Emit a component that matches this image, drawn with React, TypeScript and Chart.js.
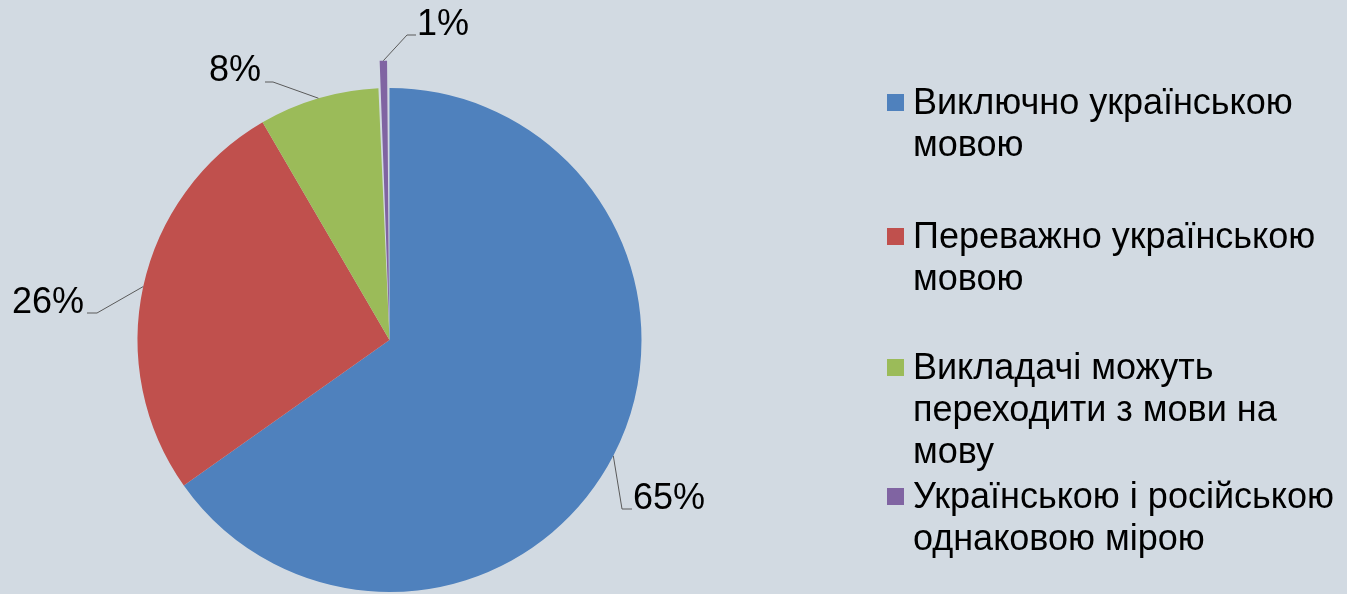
import React, { useEffect, useRef } from "react";
import { Chart, registerables } from "chart.js";

Chart.register(...registerables);

// ---- data ----
const categories: string[][] = [
  ["Виключно українською", "мовою"],
  ["Переважно українською", "мовою"],
  ["Викладачі можуть", "переходити з мови на", "мову"],
  ["Українською і російською", "однаковою мірою"],
];
const values = [65.2, 26.4, 7.7, 0.7];
const percentLabels = ["65%", "26%", "8%", "1%"];
const colors = ["#4f81bd", "#c0504d", "#9bbb59", "#8064a2"];
const sliceOffsets = [0, 0, 0, 56];

const BG = "#d2dae2";
const FONT = "'Liberation Sans', Arial, sans-serif";

// label layout: elbow point, end of leader, text anchor, alignment
const labelLayout = [
  { elbow: [622, 509], end: [632, 509], text: [633, 509], align: "left" },
  { elbow: [97, 313], end: [87, 313], text: [84, 313], align: "right" },
  { elbow: [273, 82], end: [265, 82], text: [261, 81], align: "right" },
  { elbow: [407, 35], end: [416, 35], text: [417, 35], align: "left" },
];

const legendBaselines = [114, 248, 379, 508];

const labelPlugin = {
  id: "pieLabels",
  afterDatasetsDraw(chart: any) {
    const ctx = chart.ctx;
    const meta = chart.getDatasetMeta(0);
    ctx.save();
    meta.data.forEach((arc: any, i: number) => {
      const { x, y, startAngle, endAngle, outerRadius } = arc;
      const mid = (startAngle + endAngle) / 2;
      const off = (sliceOffsets[i] || 0) / 4;
      const circ = endAngle - startAngle;
      const fix = 1 - Math.sin(Math.min(Math.PI, circ));
      const r = outerRadius + off * fix + off;
      const sx = x + Math.cos(mid) * r;
      const sy = y + Math.sin(mid) * r;
      const L = labelLayout[i];
      ctx.strokeStyle = "#5a5a5a";
      ctx.lineWidth = 1;
      ctx.beginPath();
      ctx.moveTo(sx, sy);
      ctx.lineTo(L.elbow[0], L.elbow[1]);
      ctx.lineTo(L.end[0], L.end[1]);
      ctx.stroke();
      ctx.fillStyle = "#000";
      ctx.font = `36px ${FONT}`;
      ctx.textAlign = L.align;
      ctx.textBaseline = "alphabetic";
      ctx.fillText(percentLabels[i], L.text[0], L.text[1]);
    });
    ctx.restore();
  },
};

const legendPlugin = {
  id: "customLegend",
  afterDraw(chart: any) {
    const ctx = chart.ctx;
    ctx.save();
    ctx.font = `36px ${FONT}`;
    ctx.textAlign = "left";
    ctx.textBaseline = "alphabetic";
    categories.forEach((lines, i) => {
      const b = legendBaselines[i];
      ctx.fillStyle = colors[i];
      ctx.fillRect(887, b - 20, 17, 17);
      ctx.fillStyle = "#000";
      lines.forEach((ln, k) => {
        ctx.fillText(ln, 913, b + k * 42);
      });
    });
    ctx.restore();
  },
};

export default function App() {
  const ref = useRef<HTMLCanvasElement | null>(null);
  useEffect(() => {
    document.body.style.margin = "0";
    document.body.style.overflow = "hidden";
    document.body.style.background = BG;
    const canvas = ref.current!;
    const chart = new Chart(canvas, {
      type: "pie",
      data: {
        labels: categories.map((l) => l.join(" ")),
        datasets: [
          {
            data: values,
            backgroundColor: colors,
            borderWidth: 0,
            hoverBorderWidth: 0,
            offset: sliceOffsets,
            hoverOffset: 0,
          },
        ],
      },
      options: {
        responsive: false,
        maintainAspectRatio: false,
        devicePixelRatio: 1,
        animation: false,
        layout: { padding: { left: 109.5, right: 677.5, top: 60, bottom: 10 } },
        plugins: { legend: { display: false }, tooltip: { enabled: false } },
        events: [],
      },
      plugins: [labelPlugin, legendPlugin],
    } as any);
    return () => chart.destroy();
  }, []);
  return (
    <canvas
      ref={ref}
      width={1347}
      height={630}
      style={{ display: "block", width: 1347, height: 630, background: BG }}
    />
  );
}
